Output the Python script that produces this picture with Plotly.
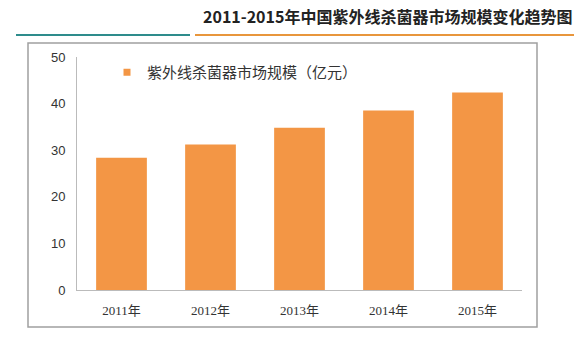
import plotly.graph_objects as go

categories = ["2011年", "2012年", "2013年", "2014年", "2015年"]
values = [28.4, 31.2, 34.8, 38.5, 42.4]
series_name = "紫外线杀菌器市场规模（亿元）"
title_text = "2011-2015年中国紫外线杀菌器市场规模变化趋势图"
y_ticks = [0, 10, 20, 30, 40, 50]
bar_color = "#F39645"

W, H = 584, 337
L, R, T, B = 77, 62, 57, 47
pw, ph = W - L - R, H - T - B

def px(x):
    return (x - L) / pw

def py(y):
    return (H - B - y) / ph

fig = go.Figure()
fig.add_trace(go.Bar(
    x=categories, y=values, name=series_name,
    marker=dict(color=bar_color, line=dict(width=0)),
    showlegend=False,
))
# legend entry with small square symbol (as in the original)
fig.add_trace(go.Scatter(
    x=[None], y=[None], mode="markers", name=series_name,
    marker=dict(symbol="square", size=7, color=bar_color),
    showlegend=True,
))

fig.update_layout(
    width=W, height=H,
    margin=dict(l=L, r=R, t=T, b=B),
    paper_bgcolor="white", plot_bgcolor="white",
    bargap=0.43,
    showlegend=True,
    legend=dict(x=px(107), y=py(56), xanchor="left", yanchor="top",
                font=dict(family="Noto Sans CJK SC", size=15, color="#333"),
                bgcolor="rgba(0,0,0,0)", itemwidth=30),
    xaxis=dict(showgrid=False, showline=True, linecolor="#BBBBBB", linewidth=1,
               ticks="", ticklabelstandoff=8,
               tickfont=dict(family="Liberation Serif, Noto Sans CJK SC", size=13, color="#333")),
    yaxis=dict(range=[0, 50], tickvals=y_ticks, showgrid=False, showline=True,
               linecolor="#BBBBBB", linewidth=1, ticks="", zeroline=False,
               tickfont=dict(family="Liberation Sans, Arial", size=13, color="#333"),
               ticklabelstandoff=8),
    shapes=[
        dict(type="rect", xref="paper", yref="paper", x0=px(28), x1=px(537), y0=py(327), y1=py(43),
             line=dict(color="#A0A0A0", width=1.5), fillcolor="rgba(0,0,0,0)", layer="below"),
        dict(type="line", xref="paper", yref="paper", x0=px(16), x1=px(190), y0=py(35), y1=py(35),
             line=dict(color="#2E8C8C", width=2)),
        dict(type="line", xref="paper", yref="paper", x0=px(195), x1=px(574), y0=py(35), y1=py(35),
             line=dict(color="#E8963C", width=2)),
    ],
    annotations=[
        dict(text="<b>" + title_text + "</b>", xref="paper", yref="paper",
             x=px(574), y=py(16), xanchor="right", yanchor="middle", showarrow=False,
             font=dict(family="Noto Sans CJK SC", size=16, color="#222")),
    ],
)

fig.write_html("out.html")
